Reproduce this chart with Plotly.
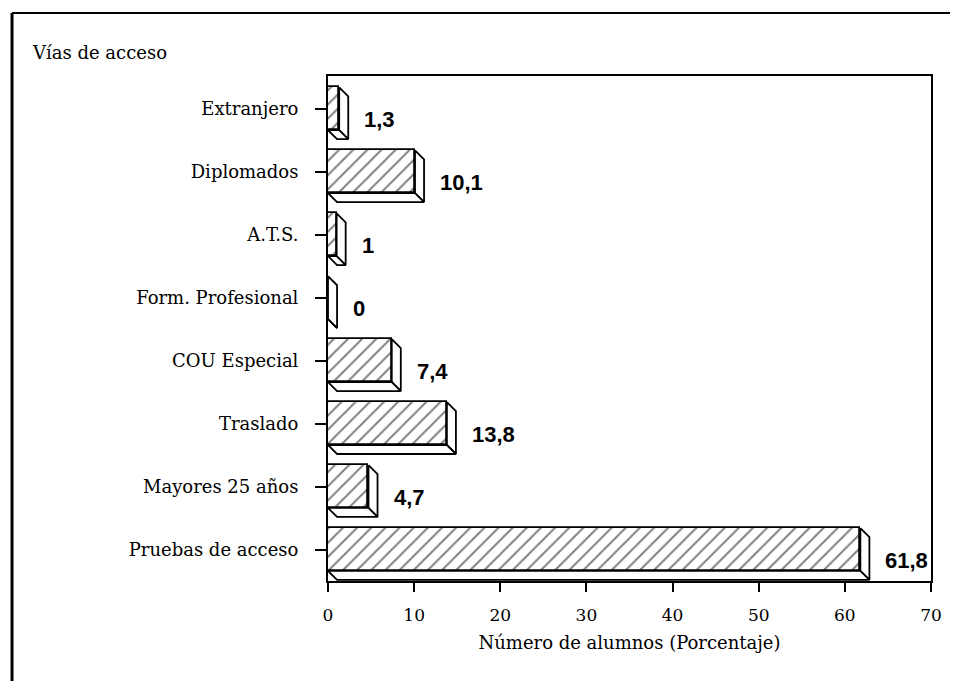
import plotly.graph_objects as go

# ---- data (bottom to top) ----
categories = ["Pruebas de acceso", "Mayores 25 años", "Traslado", "COU Especial",
              "Form. Profesional", "A.T.S.", "Diplomados", "Extranjero"]
values = [61.8, 4.7, 13.8, 7.4, 0, 1, 10.1, 1.3]
x_ticks = [0, 10, 20, 30, 40, 50, 60, 70]

# ---- style ----
BAR_W = 0.68      # front-face thickness (category units)
DX = 1.05         # extrusion depth along x (data units)
DY = 0.143        # extrusion depth along y (category units)
SERIF = "DejaVu Serif"
W, H = 950, 673   # page adds an 8px body margin

pos = list(range(len(categories)))
labels = [f"{v:g}".replace(".", ",") for v in values]

fig = go.Figure()

fig.add_trace(go.Bar(
    x=values, y=pos, orientation="h", width=BAR_W,
    marker=dict(color="white",
                line=dict(color="black", width=1.8),
                pattern=dict(shape="/", fgcolor="black", bgcolor="white",
                             size=10, solidity=0.2)),
    hoverinfo="skip", showlegend=False,
))

# extruded faces (right side + bottom) computed from the values
sx, sy, bx, by = [], [], [], []
for p, v in zip(pos, values):
    top = p + BAR_W / 2
    bot = p - BAR_W / 2
    sx += [v, v + DX, v + DX, v, v, None]
    sy += [top, top - DY, bot - DY, bot, top, None]
    bx += [0, v, v + DX, DX, 0, None]
    by += [bot, bot, bot - DY, bot - DY, bot, None]

for xx, yy in ((sx, sy), (bx, by)):
    fig.add_trace(go.Scatter(
        x=xx, y=yy, mode="lines", fill="toself", fillcolor="white",
        line=dict(color="black", width=1.8), hoverinfo="skip", showlegend=False,
    ))

for p, v, t in zip(pos, values, labels):
    fig.add_annotation(x=v + DX, y=p, text=f"<b>{t}</b>", showarrow=False,
                       xanchor="left", yanchor="middle", xshift=14, yshift=-11,
                       font=dict(family="Liberation Sans", size=22, color="black"))

# outer frame (decoration lines)
fig.add_shape(type="line", xref="paper", yref="paper",
              x0=-0.524, x1=1.2, y0=1.1248, y1=1.1248,
              line=dict(color="black", width=2))
fig.add_shape(type="line", xref="paper", yref="paper",
              x0=-0.524, x1=-0.524, y0=1.1248, y1=-0.3,
              line=dict(color="black", width=3))

fig.update_layout(
    width=W, height=H,
    margin=dict(l=320, r=27, t=68, b=100),
    paper_bgcolor="white", plot_bgcolor="white",
    font=dict(family=SERIF, size=18, color="black"),
    title=dict(text="Vías de acceso", xref="container", yref="container",
               x=(33 - 8) / W, xanchor="left", y=1 - (53 - 8) / H, yanchor="middle",
               font=dict(family=SERIF, size=18, color="black")),
    xaxis=dict(range=[0, 70], tickvals=x_ticks, ticks="outside", ticklen=9,
               tickwidth=1.8, tickcolor="black", showgrid=False, zeroline=False,
               showline=True, linecolor="black", linewidth=2, mirror=True,
               ticklabelstandoff=9,
               tickfont=dict(family=SERIF, size=17),
               title=dict(text="Número de alumnos (Porcentaje)", standoff=12,
                          font=dict(family=SERIF, size=18))),
    yaxis=dict(range=[-0.5, 7.52], tickvals=pos, ticktext=categories,
               ticks="outside", ticklen=11, tickwidth=1.8, tickcolor="black",
               showgrid=False, zeroline=False, showline=True, linecolor="black",
               linewidth=2, mirror=True, ticklabelstandoff=13,
               tickfont=dict(family=SERIF, size=18)),
    bargap=0,
)

fig.write_html("out.html")
